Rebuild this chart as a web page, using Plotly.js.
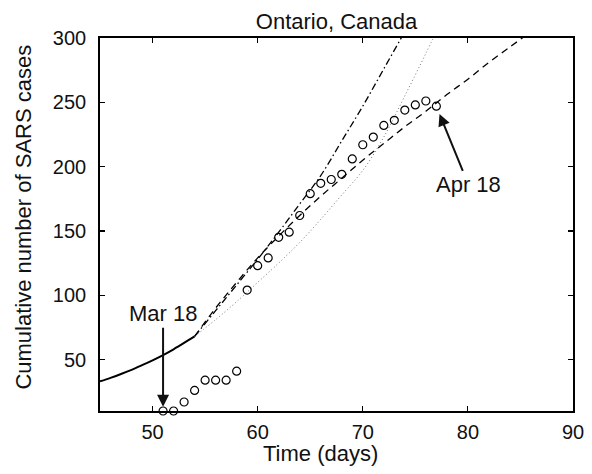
<!DOCTYPE html>
<html>
<head>
<meta charset="utf-8">
<script src="https://cdn.plot.ly/plotly-3.0.1.min.js"></script>
<style>html,body{margin:0;padding:0;background:#fff;}#chart{width:592px;height:474px;}</style>
</head>
<body>
<div id="chart"></div>
<script>
// Observed cumulative cases
const obsDays  = [51,52,53,54,55,56,57,58,59,60,61,62,63,64,65,66,67,68,69,70,71,72,73,74,75,76,77];
const obsCases = [10,10,17,26,34,34,34,41,104,123,129,145,149,162,179,187,190,194,206,217,223,232,236,244,248,251,247];

// Early phase (solid)
const earlyDays = [45,46,47,48,49,50,51,52,53,54];
const earlyVals = [33,35.8,38.8,42,45.6,49.4,53.5,58,62.9,68];

// Scenario curves after day 54
const dashDays = [54,56,58,60,62,64,66,68,70,72,74,76,78,80,82,84,86];
const dashVals = [68,90,110,129,146,162,177,191,205,218,231,243,256,268,281,293,305];

const dashdotDays = [54,56,58,60,62,64,66,68,70,72,74];
const dashdotVals = [68,88,108,128,149,171,193,220,247,276,305];

const dotDays = [54,56,58,60,62,64,66,68,70,72,74,76,77];
const dotVals = [68,81,95,110,125,141,159,178,197,223,255,288,305];

const xTicks = [50,60,70,80,90];
const yTicks = [50,100,150,200,250,300];

const font = 'Liberation Sans, Arial, Helvetica, sans-serif';
const ink = '#111';

const traces = [
  {x: earlyDays, y: earlyVals, mode: 'lines', line: {color: '#000', width: 2, shape: 'spline'}},
  {x: dashdotDays, y: dashdotVals, mode: 'lines', line: {color: '#000', width: 1.3, dash: '7px,3px,1.5px,3px', shape: 'spline'}},
  {x: dotDays, y: dotVals, mode: 'lines', line: {color: '#777', width: 1, dash: '1px,2.5px', shape: 'spline'}},
  {x: dashDays, y: dashVals, mode: 'lines', line: {color: '#000', width: 1.3, dash: '7px,5px', shape: 'spline'}},
  {x: obsDays, y: obsCases, mode: 'markers', cliponaxis: false,
   marker: {symbol: 'circle-open', size: 8, color: '#000', line: {width: 1.2, color: '#000'}}}
];

const layout = {
  width: 592, height: 474,
  margin: {l: 100, r: 19, t: 38, b: 63},
  paper_bgcolor: '#fff', plot_bgcolor: '#fff',
  showlegend: false,
  font: {family: font, color: ink, size: 20},
  title: {text: 'Ontario, Canada', font: {family: font, size: 22, color: ink},
          x: 0.5, xanchor: 'center', xref: 'paper', y: 1, yref: 'paper', yanchor: 'bottom', pad: {b: 9}},
  xaxis: {range: [45, 90], tickvals: xTicks, ticktext: xTicks.map(String),
          ticks: 'inside', ticklen: 5, tickwidth: 1.2, tickcolor: '#000',
          showline: true, linecolor: '#000', linewidth: 1.8, mirror: 'ticks',
          showgrid: false, zeroline: false, ticklabelstandoff: 2,
          tickfont: {family: font, size: 20, color: ink}},
  yaxis: {range: [10, 300], tickvals: yTicks, ticktext: yTicks.map(String),
          ticks: 'inside', ticklen: 5, tickwidth: 1.2, tickcolor: '#000',
          showline: true, linecolor: '#000', linewidth: 1.8, mirror: 'ticks',
          showgrid: false, zeroline: false, ticklabelstandoff: 8,
          tickfont: {family: font, size: 20, color: ink}},
  annotations: [
    {xref: 'paper', yref: 'paper', x: 0.4654, y: -0.1135, text: 'Time (days)', showarrow: false,
     xanchor: 'center', yanchor: 'middle', font: {family: font, size: 22, color: ink}},
    {xref: 'paper', yref: 'paper', x: -0.1608, y: 0.521, text: 'Cumulative number of SARS cases', showarrow: false,
     textangle: -90, xanchor: 'center', yanchor: 'middle', font: {family: font, size: 22, color: ink}},
    {x: 51, y: 13.3, xref: 'x', yref: 'y', text: 'Mar 18', showarrow: true,
     ax: 0, ay: -93, arrowhead: 2, arrowsize: 1.2, arrowwidth: 2, arrowcolor: ink,
     font: {family: font, size: 22, color: ink}},
    {x: 77.3, y: 241, xref: 'x', yref: 'y', text: 'Apr 18', showarrow: true,
     ax: 29, ay: 71, arrowhead: 2, arrowsize: 1.2, arrowwidth: 2, arrowcolor: ink,
     font: {family: font, size: 22, color: ink}}
  ]
};

Plotly.newPlot('chart', traces, layout, {displayModeBar: false, staticPlot: true});
</script>
</body>
</html>
